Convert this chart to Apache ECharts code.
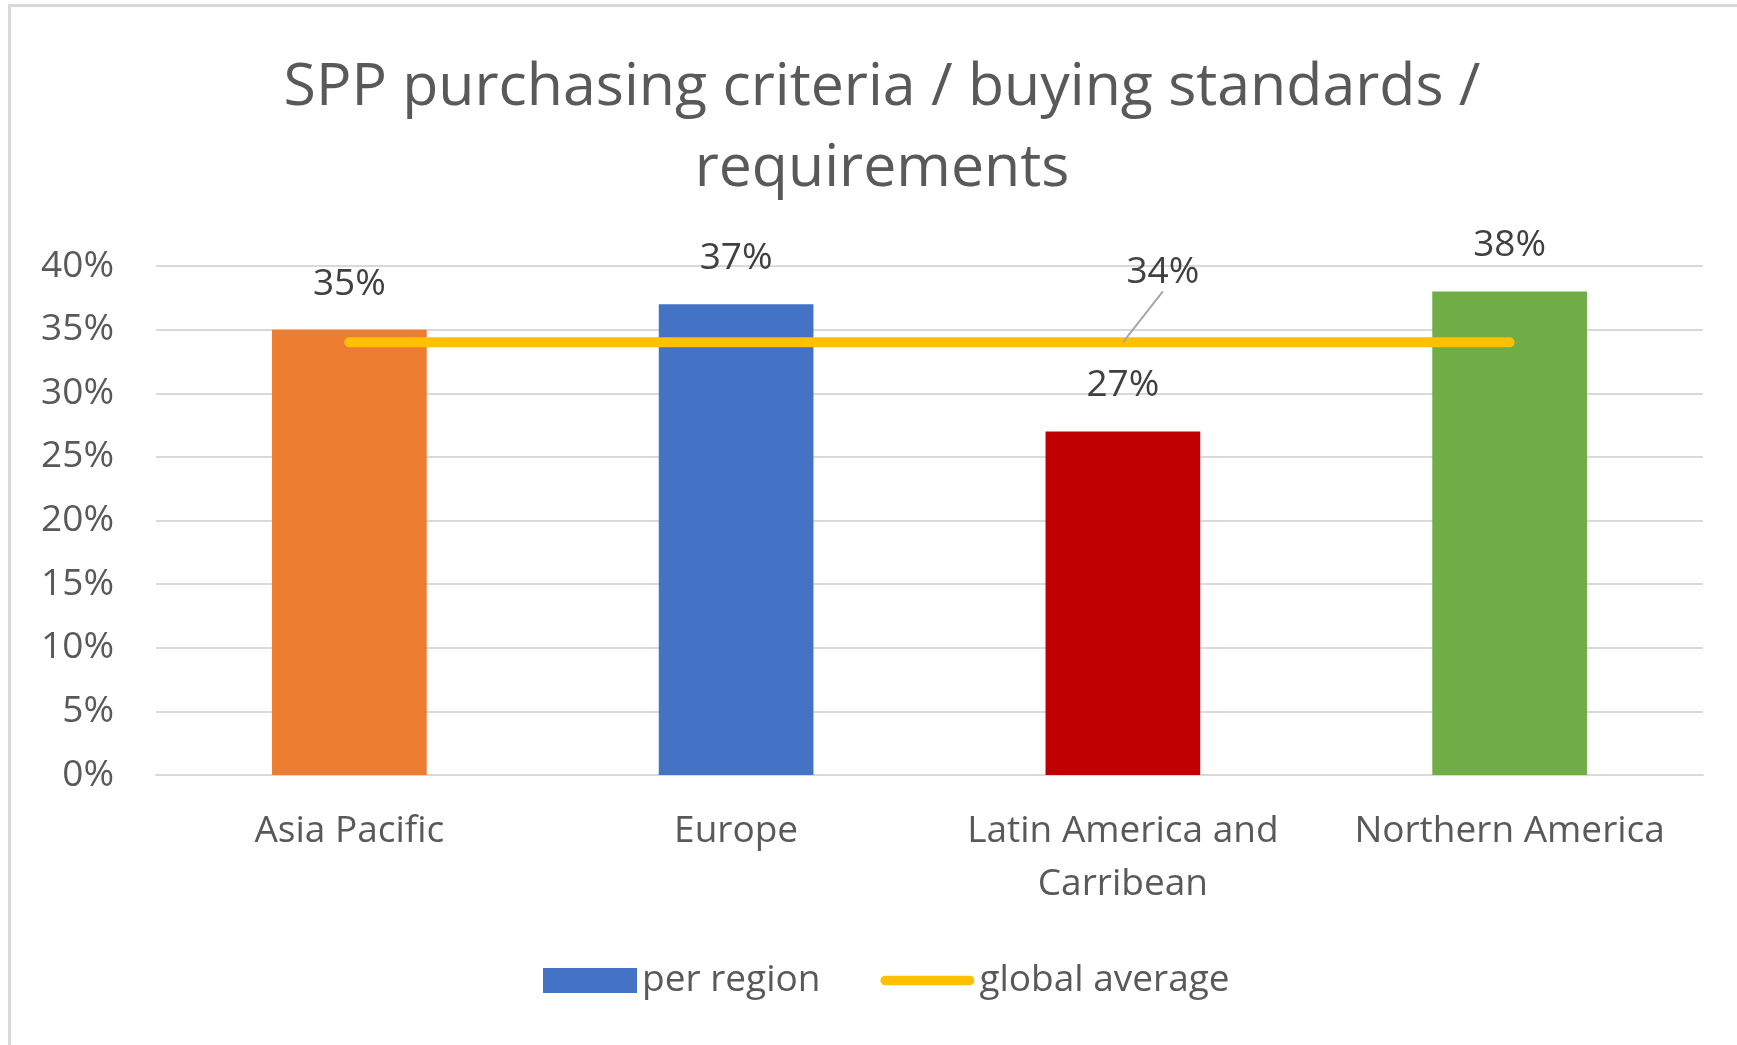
<!DOCTYPE html>
<html>
<head>
<meta charset="utf-8">
<title>SPP purchasing criteria</title>
<script src="https://cdn.jsdelivr.net/npm/echarts@6/dist/echarts.min.js"></script>
<style>
    html, body { margin: 0; padding: 0; background: #fff; overflow: hidden; }
    #main { width: 1737px; height: 1045px; }
    #frame { position: absolute; left: 8px; top: 4px; width: 1800px; height: 1100px;
             border: 3px solid #d9d9d9; pointer-events: none; }
</style>
</head>
<body>
<div id="main"></div>
<div id="frame"></div>
<script>
// data
var regions = ['Asia Pacific', 'Europe', 'Latin America and\nCarribean', 'Northern America'];
var perRegion = [35, 37, 27, 38];
var globalAverage = [34, 34, 34, 34];
var barColors = ['#ED7D31', '#4472C4', '#C00000', '#70AD47'];
var yTicks = [0, 40, 5]; // min, max, step (%)

var font = 'Open Sans';
var myChart = echarts.init(document.getElementById('main'));

myChart.setOption({
    animation: false,
    title: {
        text: 'SPP purchasing criteria / buying standards /\nrequirements',
        left: 877,
        top: 43,
        textAlign: 'center',
        textStyle: { fontFamily: font, fontSize: 59, fontWeight: 'normal', color: '#595959', lineHeight: 81 }
    },
    legend: {
        left: 538,
        top: 957,
        itemWidth: 94,
        itemHeight: 25,
        itemGap: 60,
        textStyle: { fontFamily: font, fontSize: 37, color: '#595959' },
        data: [
            { name: 'per region', icon: 'rect' },
            { name: 'global average', icon: 'path://M5,0 L92,0 A5,5 0 0 1 92,10 L5,10 A5,5 0 0 1 5,0 Z' }
        ]
    },
    grid: { left: 156, right: 34, top: 266, bottom: 270 },
    xAxis: {
        type: 'category',
        data: regions,
        axisLine: { lineStyle: { color: '#d9d9d9', width: 2 } },
        axisTick: { show: false },
        axisLabel: { interval: 0, fontFamily: font, fontSize: 37, color: '#595959', lineHeight: 53, margin: 30 }
    },
    yAxis: {
        type: 'value',
        min: yTicks[0],
        max: yTicks[1],
        interval: yTicks[2],
        axisLine: { show: false },
        axisTick: { show: false },
        splitLine: { lineStyle: { color: '#d9d9d9', width: 2 } },
        axisLabel: { formatter: '{value}%', fontFamily: font, fontSize: 37, color: '#595959', margin: 42 }
    },
    series: [{
        name: 'per region',
        type: 'bar',
        barWidth: '40%',
        itemStyle: { color: '#4472C4' },
        label: {
            show: true, position: 'top', distance: 27, formatter: '{c}%',
            fontFamily: font, fontSize: 37, color: '#404040'
        },
        data: perRegion.map(function (v, i) {
            return { value: v, itemStyle: { color: barColors[i] } };
        })
    }, {
        name: 'global average',
        type: 'line',
        symbol: 'circle',
        symbolSize: 0.1,
        showSymbol: true,
        lineStyle: { color: '#FFC000', width: 10, cap: 'round' },
        itemStyle: { color: '#FFC000' },
        label: { show: false },
        labelLine: { show: true, lineStyle: { color: '#a6a6a6', width: 2 } },
        labelLayout: { dx: 40, dy: -46 },
        data: globalAverage.map(function (v, i) {
            return i === 2 ? {
                value: v,
                label: { show: true, position: 'top', formatter: '{c}%', fontFamily: font, fontSize: 37, color: '#404040' }
            } : v;
        })
    }]
});
</script>
</body>
</html>
